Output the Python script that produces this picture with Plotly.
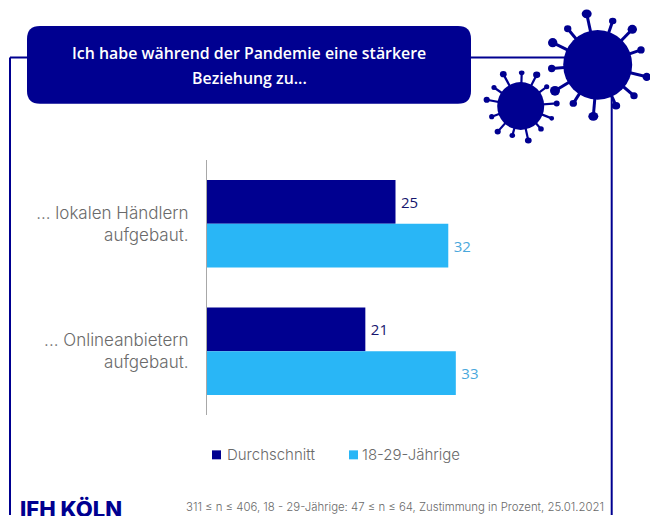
import math
import plotly.graph_objects as go

# Survey results (percent agreement)
categories = ["... lokalen Händlern<br>aufgebaut.", "... Onlineanbietern<br>aufgebaut."]
durchschnitt = [25, 21]
junge = [32, 33]
series_names = ["Durchschnitt", "18-29-Jährige"]

title_lines = ["Ich habe während der Pandemie eine stärkere", "Beziehung zu..."]
footnote = "311 ≤ n ≤ 406, 18 - 29-Jährige: 47 ≤ n ≤ 64, Zustimmung in Prozent, 25.01.2021"
logo = "IFH KÖLN"

NAVY = "#000090"
SKY = "#29B6F6"
GREY = "#6A6A6A"

W, H = 650, 516
L, R, T, B = 207, 600, 159.5, 415.5
PX_PER_UNIT = 7.54


def px(x):
    return (x - L) / (R - L)


def py(y):
    return (B - y) / (B - T)


def rect_path(x0, y0, x1, y1, r):
    """Rounded rectangle as an SVG path in paper coordinates."""
    pts = [
        ("M", x0 + r, y0), ("L", x1 - r, y0), ("Q", x1, y0, x1, y0 + r),
        ("L", x1, y1 - r), ("Q", x1, y1, x1 - r, y1), ("L", x0 + r, y1),
        ("Q", x0, y1, x0, y1 - r), ("L", x0, y0 + r), ("Q", x0, y0, x0 + r, y0),
    ]
    out = []
    for p in pts:
        coords = p[1:]
        xy = [f"{px(coords[i]):.5f},{py(coords[i + 1]):.5f}" for i in range(0, len(coords), 2)]
        out.append(p[0] + " ".join(xy))
    return " ".join(out) + " Z"


shapes = []


def line(x0, y0, x1, y1, width=2.0, color=NAVY):
    shapes.append(dict(type="line", xref="paper", yref="paper", x0=px(x0), y0=py(y0),
                       x1=px(x1), y1=py(y1), line=dict(color=color, width=width)))


def disc(cx, cy, rx, ry):
    shapes.append(dict(type="circle", xref="paper", yref="paper",
                       x0=px(cx - rx), x1=px(cx + rx), y0=py(cy + ry), y1=py(cy - ry),
                       fillcolor=NAVY, line=dict(width=0)))


def swatch(x0, y0, x1, y1, color):
    shapes.append(dict(type="rect", xref="paper", yref="paper", x0=px(x0), x1=px(x1),
                       y0=py(y1), y1=py(y0), fillcolor=color, line=dict(width=0)))


def virus(cx, cy, rx, ry, tips, spike):
    for tx, ty, r in tips:
        line(cx, cy, tx, ty, width=spike)
        a = math.atan2(ty - cy, tx - cx)
        disc(tx, ty, r, r * (0.85 + 0.15 * abs(math.cos(a))))
    disc(cx, cy, rx, ry)


# Frame around the chart
line(10, 56.5, 10, 516)
line(10, 56.5, 612, 56.5)
line(611.7, 56.5, 611.7, 516)

# Heading box
shapes.append(dict(type="path", xref="paper", yref="paper", path=rect_path(27, 25, 471, 103, 13),
                   fillcolor=NAVY, line=dict(width=0)))

# Corona virus decorations
virus(597.7, 64, 34.5, 35, [
    (586.7, 12.7, 5), (612.7, 20, 3.7), (632.3, 28.3, 4.7), (641, 49, 3.7), (646.7, 76, 4.2),
    (634, 95, 3.7), (616, 105, 4.2), (593.3, 115.7, 5), (573.3, 102.7, 3.7), (555, 90, 5),
    (551.7, 67.7, 3.7), (552.7, 41.7, 4.7), (567.7, 27.7, 3.7),
], 3)
virus(520.7, 105.3, 23.5, 24, [
    (521.7, 72, 2.8), (536.7, 74, 3.6), (546.7, 86, 2.6), (556.7, 102.7, 3), (551.7, 117.7, 2.4),
    (541, 128.3, 2.8), (528.3, 140, 3.4), (512.3, 135, 2.8), (497.7, 131, 3.1), (491.7, 116, 2.6),
    (486.7, 99, 3.1), (494, 86.7, 2.6), (503.3, 73.3, 3.4),
], 2.2)

annotations = []
for text, y in zip(title_lines, (52.5, 77)):
    annotations.append(dict(text=text, xref="paper", yref="paper", x=px(249), y=py(y),
                            xanchor="center", yanchor="middle", showarrow=False,
                            font=dict(family="Open Sans", size=15.9, color="white", weight=600)))
annotations += [
    dict(text=logo, xref="paper", yref="paper", x=px(18), y=py(495), xanchor="left", yanchor="top",
         showarrow=False, font=dict(family="Inter", size=22, color=NAVY, weight=800)),
    dict(text=footnote, xref="paper", yref="paper", x=px(606), y=py(508), xanchor="right",
         yanchor="middle", showarrow=False, font=dict(family="Inter", size=11.4, color=GREY, weight=300)),
]

# Key below the bars
swatch(212, 451, 221, 460, NAVY)
swatch(349, 451, 358, 460, SKY)
for name, x in zip(series_names, (225, 360)):
    annotations.append(dict(text=name, xref="paper", yref="paper", x=px(x), y=py(455),
                            xanchor="left", yanchor="middle", showarrow=False,
                            font=dict(family="Inter", size=15, color=GREY, weight=300)))

fig = go.Figure()
fig.add_bar(name=series_names[0], y=categories, x=durchschnitt, orientation="h",
            marker=dict(color=NAVY, line=dict(width=0)), texttemplate="\u2009%{x}", textposition="outside",
            textfont=dict(family="Open Sans", size=15, color="#16166E"), cliponaxis=False)
fig.add_bar(name=series_names[1], y=categories, x=junge, orientation="h",
            marker=dict(color=SKY, line=dict(width=0)), texttemplate="\u2009%{x}", textposition="outside",
            textfont=dict(family="Open Sans", size=15, color="#4AA8DC"), cliponaxis=False)

fig.update_layout(
    width=W, height=H, autosize=False,
    margin=dict(l=L, r=W - R, t=T, b=H - B, pad=0),
    paper_bgcolor="white", plot_bgcolor="white",
    barmode="group", bargap=0.3125, bargroupgap=0,
    shapes=shapes, annotations=annotations,
    showlegend=False,
)
fig.update_xaxes(range=[0, (R - L) / PX_PER_UNIT], visible=False)
fig.update_yaxes(autorange="reversed", showline=True, linecolor="#A8A8A8", linewidth=1,
                 ticks="", ticklabelstandoff=14, showgrid=False, zeroline=False,
                 tickfont=dict(family="Inter", size=17, color=GREY, weight=300))

fig.write_html("out.html")
